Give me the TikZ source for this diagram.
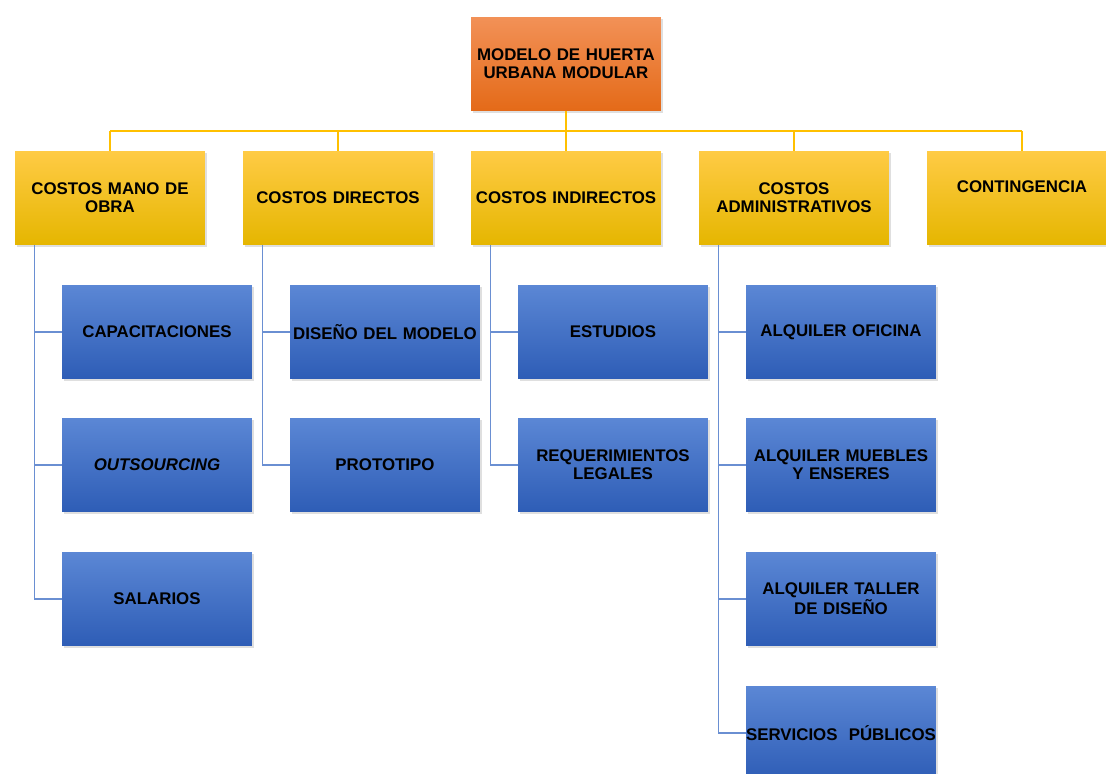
\documentclass[tikz,border=0pt]{standalone}
\usepackage{fontspec}
\setmainfont{Liberation Sans}
\usetikzlibrary{shadows}

\definecolor{naranjaArriba}{HTML}{F29157}
\definecolor{naranjaAbajo}{HTML}{E46A18}
\definecolor{amarilloArriba}{HTML}{FFCB45}
\definecolor{amarilloMedio}{HTML}{FFC000}
\definecolor{amarilloAbajo}{HTML}{E5B600}
\definecolor{azulArriba}{HTML}{5B87D5}
\definecolor{azulAbajo}{HTML}{2E5DB6}
\definecolor{lineaAmarilla}{HTML}{FFC000}
\definecolor{lineaAzul}{HTML}{6A8FD2}

\tikzset{
  caja/.style={minimum width=3.8cm, minimum height=1.88cm, inner sep=0pt,
    align=center, text width=3.8cm,
    font=\fontsize{9.6}{10.2}\selectfont\bfseries,
    drop shadow={opacity=0.25, shadow xshift=0.04cm, shadow yshift=-0.04cm}},
  raizbox/.style={caja, top color=naranjaArriba, bottom color=naranjaAbajo},
  rubro/.style={caja, top color=amarilloArriba, middle color=amarilloMedio, bottom color=amarilloAbajo},
  detalle/.style={caja, top color=azulArriba, bottom color=azulAbajo},
  ramaAmarilla/.style={draw=lineaAmarilla, line width=0.85pt},
  ramaAzul/.style={draw=lineaAzul, line width=0.85pt}
}

\begin{document}
\hyphenpenalty=10000
\begin{tikzpicture}[x=0.02cm, y=-0.02cm]
  \useasboundingbox (0,0) rectangle (1106,774);
  \coordinate (bus) at (0,131);

  % nivel superior
  \node [raizbox] (raiz) at (566,64) {MODELO DE HUERTA\\URBANA MODULAR};

  % rubros
  \node [rubro] (mano)       at (110,198)  {COSTOS MANO DE\\OBRA};
  \node [rubro] (directos)   at (338,198)  {COSTOS DIRECTOS};
  \node [rubro] (indirectos) at (566,198)  {COSTOS INDIRECTOS};
  \node [rubro] (admin)      at (794,198)  {COSTOS\\ADMINISTRATIVOS};
  \node [rubro] (conting)    at (1022,198) {CONTINGENCIA\\[3pt]\mbox{}};

  % detalles
  \node [detalle] (cap)    at (157,332) {CAPACITACIONES};
  \node [detalle] (outs)   at (157,465) {\itshape OUTSOURCING};
  \node [detalle] (sal)    at (157,599) {SALARIOS};
  \node [detalle] (dis)    at (385,332) {\mbox{DISEÑO DEL MODELO}};
  \node [detalle] (proto)  at (385,465) {PROTOTIPO};
  \node [detalle] (est)    at (613,332) {ESTUDIOS};
  \node [detalle] (req)    at (613,465) {REQUERIMIENTOS\\LEGALES};
  \node [detalle] (ofi)    at (841,332) {ALQUILER OFICINA};
  \node [detalle] (mueb)   at (841,465) {ALQUILER MUEBLES\\Y ENSERES};
  \node [detalle] (taller) at (841,599) {ALQUILER TALLER\\DE DISEÑO};
  \node [detalle] (serv)   at (841,733) {\mbox{SERVICIOS~~PÚBLICOS}};

  % conectores amarillos
  \draw [ramaAmarilla] (raiz.south) -- (raiz.south |- bus);
  \draw [ramaAmarilla] (mano.north |- bus) -- (conting.north |- bus);
  \foreach \r in {mano,directos,indirectos,admin,conting}
    \draw [ramaAmarilla] (\r.north) -- (\r.north |- bus);

  % conectores azules
  \foreach \r/\d in {mano/cap,mano/outs,mano/sal,directos/dis,directos/proto,
                     indirectos/est,indirectos/req,admin/ofi,admin/mueb,admin/taller,admin/serv}
    \draw [ramaAzul] ([xshift=0.4cm]\r.south west) |- (\d.west);
\end{tikzpicture}
\end{document}
